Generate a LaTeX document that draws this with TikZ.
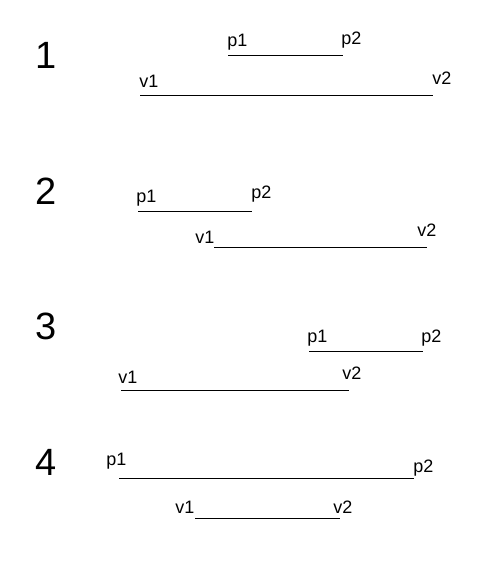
\documentclass[tikz,border=0pt]{standalone}
\usepackage{fontspec}
\setmainfont{Liberation Sans}
\usetikzlibrary{positioning}
\begin{document}
\begin{tikzpicture}[x=1pt,y=-1pt,line width=0.8pt]
  \tikzstyle{case no} = [font=\fontsize{38}{38}\selectfont,inner sep=0pt]
  \tikzstyle{end label} = [font=\fontsize{18}{18}\selectfont,inner sep=0pt,anchor=base west]
  \tikzstyle{segment} = [draw,line width=0.8pt]
  \useasboundingbox (0,0) rectangle (494,569);

  % case 1
  \node [case no] (c1) at (46,55) {1};
  \coordinate (p1a) at (228,55);
  \coordinate (p2a) at (343,55);
  \coordinate (v1a) at (140,95);
  \coordinate (v2a) at (433,95);
  \node [end label] (lp1a) at (227,47) {p1};
  \node [end label] (lp2a) at (341,45) {p2};
  \node [end label] (lv1a) at (139,88) {v1};
  \node [end label] (lv2a) at (432,85) {v2};
  \draw [segment] (p1a) -- (p2a);
  \draw [segment] (v1a) -- (v2a);

  % case 2
  \node [case no] (c2) at (46,191) {2};
  \coordinate (p1b) at (138,211);
  \coordinate (p2b) at (252,211);
  \coordinate (v1b) at (214,247);
  \coordinate (v2b) at (427,247);
  \node [end label] (lp1b) at (136,203) {p1};
  \node [end label] (lp2b) at (251,198) {p2};
  \node [end label] (lv1b) at (195,243) {v1};
  \node [end label] (lv2b) at (417,236) {v2};
  \draw [segment] (p1b) -- (p2b);
  \draw [segment] (v1b) -- (v2b);

  % case 3
  \node [case no] (c3) at (46,326) {3};
  \coordinate (p1c) at (309,351);
  \coordinate (p2c) at (423,351);
  \coordinate (v1c) at (121,390);
  \coordinate (v2c) at (349,390);
  \node [end label] (lp1c) at (307,342) {p1};
  \node [end label] (lp2c) at (421,342) {p2};
  \node [end label] (lv1c) at (118,383) {v1};
  \node [end label] (lv2c) at (342,379) {v2};
  \draw [segment] (p1c) -- (p2c);
  \draw [segment] (v1c) -- (v2c);

  % case 4
  \node [case no] (c4) at (46,462) {4};
  \coordinate (p1d) at (119,478);
  \coordinate (p2d) at (414,478);
  \coordinate (v1d) at (195,518);
  \coordinate (v2d) at (340,518);
  \node [end label] (lp1d) at (106,465) {p1};
  \node [end label] (lp2d) at (413,472) {p2};
  \node [end label] (lv1d) at (175,513) {v1};
  \node [end label] (lv2d) at (333,513) {v2};
  \draw [segment] (p1d) -- (p2d);
  \draw [segment] (v1d) -- (v2d);

\end{tikzpicture}
\end{document}
